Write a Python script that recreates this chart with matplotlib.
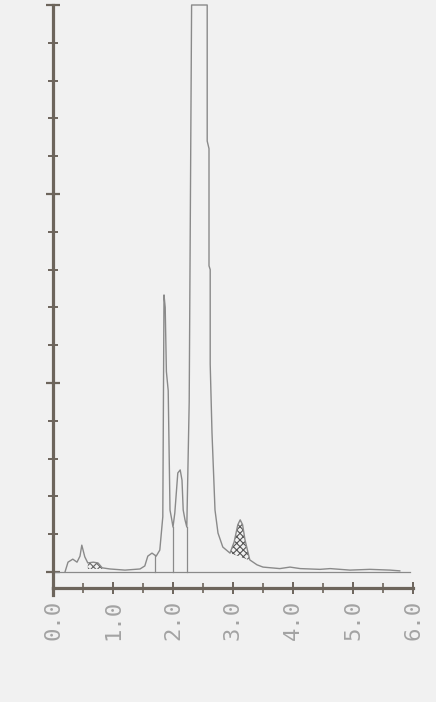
import numpy as np
import matplotlib.pyplot as plt

# retention time (min) and detector response (grid units, 15 = full scale)
rt = [0.20, 0.25, 0.33, 0.40, 0.45, 0.48, 0.53, 0.58, 0.67, 0.75, 0.82, 0.95,
      1.20, 1.45, 1.53, 1.58, 1.65, 1.72, 1.78, 1.83, 1.85, 1.87, 1.89, 1.92,
      1.95, 1.98, 2.00, 2.03, 2.08, 2.12, 2.15, 2.17, 2.20, 2.23, 2.27, 2.31,
      2.57, 2.57, 2.60, 2.60, 2.62, 2.62, 2.65, 2.70, 2.75, 2.83, 2.95, 3.02,
      3.08, 3.12, 3.16, 3.20, 3.28, 3.40, 3.50, 3.78, 3.95, 4.12, 4.45, 4.62,
      4.95, 5.28, 5.62, 5.78]
signal = [0.00, 0.26, 0.34, 0.26, 0.42, 0.71, 0.40, 0.24, 0.26, 0.24, 0.11, 0.08,
          0.05, 0.08, 0.16, 0.42, 0.50, 0.42, 0.58, 1.46, 7.33, 7.00, 5.30, 4.80,
          1.64, 1.38, 1.19, 1.56, 2.62, 2.70, 2.43, 1.64, 1.38, 1.19, 4.50, 15.0,
          15.0, 11.4, 11.2, 8.10, 8.00, 5.50, 3.68, 1.64, 1.03, 0.66, 0.50, 0.80,
          1.25, 1.38, 1.25, 0.85, 0.32, 0.19, 0.13, 0.09, 0.13, 0.09, 0.07, 0.09,
          0.05, 0.07, 0.05, 0.03]

drop_lines = [1.70, 2.00, 2.23]
shaded_small = (0.58, 0.82)
shaded_peak = (2.95, 3.30)
xtick_labels = ["0.0", "1.0", "2.0", "3.0", "4.0", "5.0", "6.0"]

bg = "#f1f1f1"
axis_col = "#6d655c"
trace_col = "#8a8a8a"

fig = plt.figure(figsize=(4.36, 7.02), dpi=100, facecolor=bg)
ax = fig.add_axes([53 / 436, 114 / 702, 360 / 436, 583 / 702])
ax.set_facecolor(bg)
ax.set_xlim(0, 6)
ax.set_ylim(-16 / 37.8, 15)

rt_a = np.array(rt)
sig_a = np.array(signal)

ax.plot(rt, signal, color=trace_col, lw=1.0, clip_on=False)
ax.plot([0, 5.95], [0, 0], color=trace_col, lw=0.9)

for x in drop_lines:
    ax.plot([x, x], [0, np.interp(x, rt_a, sig_a)], color=trace_col, lw=0.9)

# hatched integration areas
plt.rcParams["hatch.linewidth"] = 0.8
m = (rt_a >= shaded_small[0]) & (rt_a <= shaded_small[1])
ax.fill_between(rt_a[m], 0.08, sig_a[m], facecolor="none", edgecolor="#666666",
                hatch="xxxxx", linewidth=0)
xs = np.linspace(shaded_peak[0], shaded_peak[1], 40)
top = np.interp(xs, rt_a, sig_a)
skim = np.interp(xs, [shaded_peak[0], shaded_peak[1]],
                 [np.interp(shaded_peak[0], rt_a, sig_a), np.interp(shaded_peak[1], rt_a, sig_a)])
ax.fill_between(xs, skim, top, facecolor="none", edgecolor="#555555",
                hatch="xxxxx", linewidth=0)

for s in ["top", "right"]:
    ax.spines[s].set_visible(False)
for s in ["left", "bottom"]:
    ax.spines[s].set_color(axis_col)
    ax.spines[s].set_linewidth(2.3)
ax.plot([0, 0], [-16 / 37.8, -0.6], color=axis_col, lw=2.3, clip_on=False)

ax.set_yticks(np.arange(0, 16, 5))
ax.set_yticks(np.arange(0, 16, 1), minor=True)
ax.tick_params(axis="y", which="major", direction="inout", length=10, width=1.6,
               color=axis_col, labelleft=False)
ax.tick_params(axis="y", which="minor", direction="inout", length=7, width=1.4,
               color=axis_col)

ax.set_xticks(range(7))
ax.set_xticklabels(xtick_labels, rotation=90, family="DejaVu Sans Mono",
                   fontsize=16, color="#a3a3a3")
ax.set_xticks(np.arange(0, 6.01, 0.5), minor=True)
ax.tick_params(axis="x", which="major", direction="inout", length=9, width=1.4,
               color=axis_col, pad=4)
ax.tick_params(axis="x", which="minor", direction="inout", length=7, width=1.2,
               color=axis_col)

fig.savefig("out.png", dpi=100, facecolor=bg)
